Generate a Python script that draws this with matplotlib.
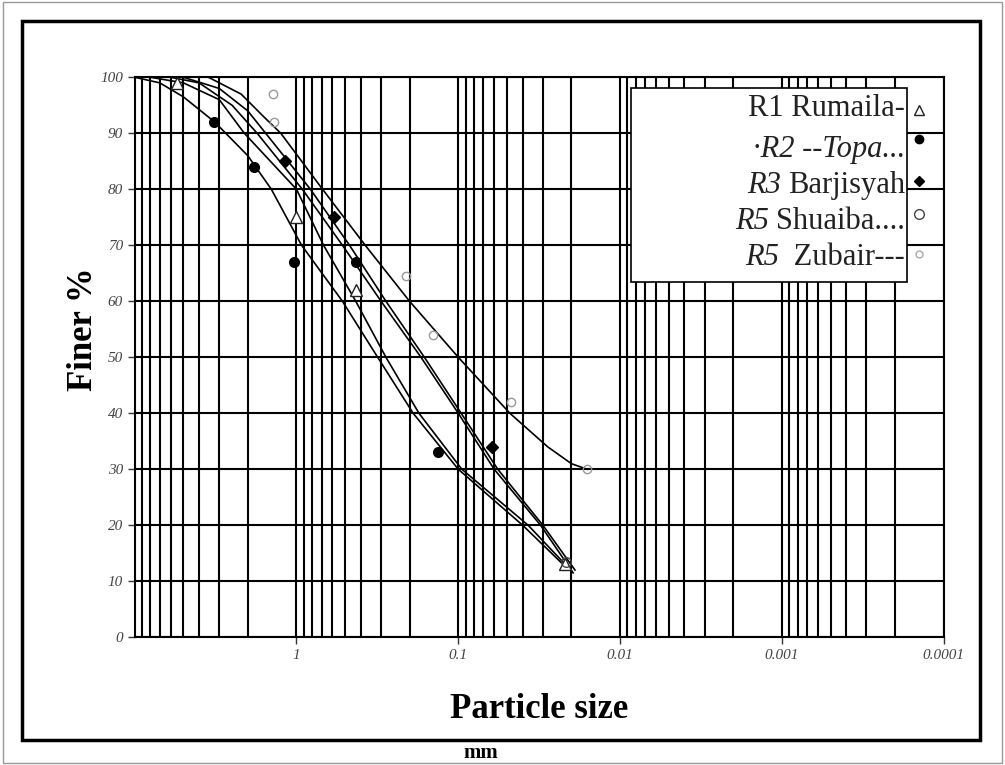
import numpy as np
import matplotlib.pyplot as plt
from matplotlib.patches import Rectangle
from matplotlib.ticker import LogLocator, NullFormatter

plt.rcParams['font.family'] = ['Liberation Serif', 'DejaVu Serif']

# traced grading curves: particle size (mm) vs finer %
c1_size = [10, 7, 5, 3.2, 2, 1.43, 0.93, 0.52, 0.315, 0.19, 0.1, 0.04, 0.0225]
c1_finer = [100, 99, 96.5, 92, 86, 80, 70, 60, 50, 40, 30, 20, 13]
c2_size = [8, 5, 3, 2.1, 1.0, 0.68, 0.43, 0.28, 0.175, 0.095, 0.037, 0.021]
c2_finer = [100, 99, 96, 90, 80, 70, 60, 50, 40, 30, 20, 12.5]
c3_size = [6, 4, 2.5, 1.75, 0.92, 0.52, 0.30, 0.17, 0.1, 0.06, 0.031, 0.0195]
c3_finer = [100, 99, 95, 90, 80, 70, 60, 50, 40, 30, 20, 11.5]
c4_size = [5, 3, 2, 1.55, 0.82, 0.47, 0.28, 0.162, 0.096, 0.057, 0.03, 0.019]
c4_finer = [100, 98, 94, 90, 80, 70, 60, 50, 40, 30, 20, 12]
c5_size = [3.5, 2.2, 1.6, 1.25, 0.69, 0.376, 0.2, 0.1, 0.048, 0.028, 0.02, 0.016]
c5_finer = [100, 97, 93, 90, 80, 70, 60, 50, 40, 34, 31, 30]

# measured points
r1_size = [5.5, 1.0, 0.43, 0.022]
r1_finer = [99, 75, 62, 13]
r2_size = [3.25, 1.83, 1.03, 0.43, 0.133]
r2_finer = [92, 84, 67, 67, 33]
r3_size = [1.17, 0.59, 0.062]
r3_finer = [85, 75, 34]
r4_size = [0.0215]
r4_finer = [13.5]
r5_size = [1.4, 1.37, 0.21, 0.143, 0.047, 0.016]
r5_finer = [97, 92, 64.5, 54, 42, 30]

# legend pieces: italic prefix + upright rest
legend_italic = ['', '\u00b7R2 --Topa...', 'R3', 'R5', 'R5']
legend_plain = ['R1 Rumaila-', '', 'Barjisyah', 'Shuaiba....', ' Zubair---']

fig = plt.figure(figsize=(10.05, 7.65), dpi=100)
ax = fig.add_axes([0.134, 0.167, 0.805, 0.732])

ax.set_xscale('log')
ax.set_xlim(10, 0.0001)
ax.set_ylim(0, 100)

ax.set_xticks([1, 0.1, 0.01, 0.001, 0.0001])
ax.set_xticklabels(['1', '0.1', '0.01', '0.001', '0.0001'])
ax.xaxis.set_minor_locator(LogLocator(base=10, subs=np.arange(2, 10)))
ax.xaxis.set_minor_formatter(NullFormatter())
ax.set_yticks(np.arange(0, 101, 10))

ax.grid(which='both', axis='x', color='black', lw=1.5)
ax.grid(which='major', axis='y', color='black', lw=1.5)
ax.tick_params(which='minor', length=0)
ax.tick_params(which='major', length=5, width=1, direction='out', color='#333',
               labelsize=11, labelcolor='#444')
for lab in ax.get_xticklabels() + ax.get_yticklabels():
    lab.set_fontstyle('italic')
for s in ax.spines.values():
    s.set_linewidth(1.5)

for xs, ys in [(c1_size, c1_finer), (c2_size, c2_finer), (c3_size, c3_finer),
               (c4_size, c4_finer), (c5_size, c5_finer)]:
    ax.plot(xs, ys, color='black', lw=1.2, zorder=3)

ax.plot(r1_size, r1_finer, '^', ms=8, mfc='white', mec='#222', mew=1, zorder=4)
ax.plot(r2_size, r2_finer, 'o', ms=7, color='black', zorder=4)
ax.plot(r3_size, r3_finer, 'D', ms=6, color='black', zorder=4)
ax.plot(r4_size, r4_finer, 'o', ms=7, mfc='none', mec='#444', mew=1, zorder=4)
ax.plot(r5_size, r5_finer, 'o', ms=6, mfc='none', mec='#999', mew=1, ls='none', zorder=4)

ax.set_xlabel('Particle size', fontsize=25, fontweight='bold', labelpad=22)
ax.set_ylabel('Finer %', fontsize=25, fontweight='bold')
ax.yaxis.set_label_coords(-0.043, 0.55)

# legend drawn by hand: text right-aligned, markers outside the box
ax.add_patch(Rectangle((0.613, 0.634), 0.342, 0.346, transform=ax.transAxes,
                       facecolor='white', edgecolor='black', lw=1.2, zorder=5))
text_y = [0.944, 0.871, 0.807, 0.743, 0.679]
mark_y = [0.942, 0.889, 0.814, 0.755, 0.685]
mark_style = [dict(marker='^', ms=7, mfc='white', mec='#222'),
              dict(marker='o', ms=6, color='black'),
              dict(marker='D', ms=5, color='black'),
              dict(marker='o', ms=7, mfc='white', mec='#444'),
              dict(marker='o', ms=5, mfc='none', mec='#aaa')]

fig.canvas.draw()
renderer = fig.canvas.get_renderer()
gap = 7  # pixels between italic prefix and upright text
for i in range(len(legend_plain)):
    right = 0.952
    if legend_plain[i]:
        t = ax.text(right, text_y[i], legend_plain[i], transform=ax.transAxes,
                    ha='right', va='center', fontsize=22, color='#222', zorder=6)
        bb = t.get_window_extent(renderer)
        right = ax.transAxes.inverted().transform((bb.x0 - gap, bb.y0))[0]
    if legend_italic[i]:
        ax.text(right, text_y[i], legend_italic[i], transform=ax.transAxes,
                ha='right', va='center', fontsize=22, style='italic', color='#222', zorder=6)
    ax.plot([0.969], [mark_y[i]], transform=ax.transAxes, clip_on=False,
            ls='none', zorder=6, **mark_style[i])

# outer frame and the clipped unit label
fig.text(0.478, 0.016, 'mm', fontsize=15, fontweight='bold', ha='center', va='center')
fig.patches.append(Rectangle((0.022, 0.033), 0.953, 0.94, transform=fig.transFigure,
                             fill=False, edgecolor='black', lw=2.5, zorder=10))
fig.patches.append(Rectangle((0.003, 0.003), 0.994, 0.994, transform=fig.transFigure,
                             fill=False, edgecolor='#999', lw=1, zorder=10))

fig.savefig('out.png', dpi=100)
